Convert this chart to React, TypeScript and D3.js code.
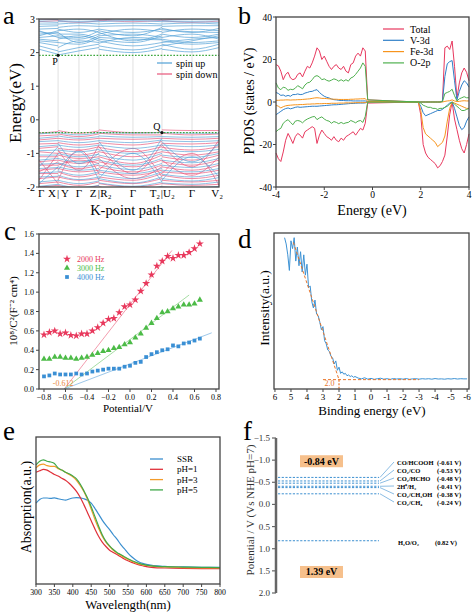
import React from 'react';
import * as d3 from 'd3';

const FONT = '"Liberation Serif", "Times New Roman", Times, serif';
const FRAME = '#444';

// ---------------- panel a : band structure ----------------
// node order: Γ, X, Y, Γ, Z, R2, Γ, T2, U2, Γ, V2  (X|Y, Z|R2, T2|U2 share a position)
const kNodes = [0, 0.106, 0.106, 0.222, 0.333, 0.333, 0.522, 0.683, 0.683, 0.85, 1];
const kSegments = [[0, 1], [2, 3, 4], [5, 6, 7], [8, 9, 10]];
const kLabels = ['Γ', 'X', '|', 'Y', 'Γ', 'Z', '|', 'R₂', 'Γ', 'T₂', '|', 'U₂', 'Γ', 'V₂'];
const kLabelPos = [0.012, 0.072, 0.106, 0.144, 0.222, 0.3, 0.333, 0.372, 0.522, 0.644, 0.683, 0.722, 0.85, 0.99];
const kGridLines = [0.106, 0.222, 0.333, 0.522, 0.683, 0.85];
const energyTicksA = [-2, -1, 0, 1, 2, 3];
const cbmLevel = 1.92;
const vbmLevel = -0.38;
const pointP = [0.106, 1.92];
const pointQ = [0.683, -0.38];

const cbSpinUp = [
  [2.10, 1.95, 1.93, 2.05, 2.15, 2.10, 2.00, 2.12, 2.10, 2.02, 2.15],
  [2.20, 2.05, 2.02, 2.15, 2.25, 2.20, 2.08, 2.22, 2.25, 2.10, 2.25],
  [2.30, 2.20, 2.15, 2.35, 2.30, 2.35, 2.20, 2.30, 2.35, 2.25, 2.30],
  [2.40, 2.35, 2.30, 2.25, 2.45, 2.45, 2.40, 2.38, 2.30, 2.40, 2.45],
  [2.45, 2.50, 2.45, 2.40, 2.55, 2.50, 2.55, 2.45, 2.45, 2.55, 2.40],
  [2.55, 2.60, 2.55, 2.55, 2.40, 2.60, 2.35, 2.55, 2.55, 2.45, 2.55],
  [2.62, 2.55, 2.65, 2.70, 2.60, 2.55, 2.70, 2.62, 2.60, 2.70, 2.65],
  [2.70, 2.72, 2.70, 2.60, 2.70, 2.70, 2.60, 2.70, 2.72, 2.60, 2.72],
  [2.78, 2.80, 2.75, 2.80, 2.78, 2.78, 2.80, 2.80, 2.78, 2.80, 2.80],
  [2.85, 2.85, 2.85, 2.88, 2.85, 2.85, 2.88, 2.85, 2.85, 2.88, 2.85],
  [2.92, 2.90, 2.92, 2.92, 2.92, 2.92, 2.95, 2.92, 2.92, 2.92, 2.90],
  [2.97, 2.98, 2.96, 2.98, 2.96, 2.97, 2.98, 2.97, 2.96, 2.98, 2.97],
  [2.35, 2.30, 2.40, 2.50, 2.35, 2.28, 2.45, 2.40, 2.20, 2.35, 2.50],
  [2.65, 2.45, 2.50, 2.45, 2.65, 2.65, 2.50, 2.75, 2.68, 2.62, 2.60],
  [2.50, 2.65, 2.60, 2.30, 2.50, 2.40, 2.30, 2.50, 2.40, 2.30, 2.35],
];
const cbSpinDown = [
  [3.00, 2.98, 3.00, 3.02, 2.99, 2.95, 3.05, 3.00, 2.97, 3.02, 3.05],
  [2.92, 2.95, 2.95, 2.90, 2.95, 2.97, 2.92, 2.96, 2.95, 2.90, 2.94],
];
const vbSpinDown = [
  [-0.40, -0.35, -0.32, -0.40, -0.33, -0.30, -0.38, -0.38, -0.30, -0.32, -0.32],
  [-0.48, -0.45, -0.42, -0.50, -0.42, -0.40, -0.45, -0.45, -0.40, -0.45, -0.42],
  [-0.60, -0.55, -0.55, -0.60, -0.55, -0.55, -0.58, -0.55, -0.55, -0.58, -0.55],
  [-0.72, -0.70, -0.68, -0.75, -0.70, -0.68, -0.75, -0.65, -0.70, -0.72, -0.68],
  [-0.85, -0.80, -0.85, -0.90, -0.80, -0.82, -0.95, -0.80, -0.82, -0.90, -0.80],
  [-0.95, -1.00, -0.95, -1.05, -0.95, -0.95, -1.10, -0.95, -0.95, -1.05, -0.95],
  [-1.10, -1.10, -1.05, -1.15, -1.10, -1.10, -1.30, -1.05, -1.10, -1.20, -1.05],
  [-1.25, -1.20, -1.20, -1.30, -1.20, -1.25, -1.40, -1.20, -1.25, -1.35, -1.20],
  [-1.35, -1.35, -1.30, -1.45, -1.35, -1.40, -1.55, -1.35, -1.40, -1.50, -1.35],
  [-1.50, -1.45, -1.45, -1.55, -1.50, -1.55, -1.65, -1.50, -1.55, -1.60, -1.50],
  [-1.60, -1.60, -1.55, -1.70, -1.60, -1.70, -1.80, -1.60, -1.65, -1.75, -1.65],
  [-1.75, -1.70, -1.70, -1.80, -1.75, -1.80, -1.90, -1.75, -1.80, -1.85, -1.80],
  [-1.90, -1.85, -1.85, -1.95, -1.85, -1.90, -2.00, -1.90, -1.90, -1.95, -1.92],
  [-2.00, -1.95, -1.95, -2.05, -1.95, -2.00, -2.10, -2.00, -2.00, -2.05, -2.00],
  [-1.80, -1.00, -0.90, -1.50, -0.75, -0.80, -1.60, -0.70, -0.75, -1.40, -0.60],
  [-1.20, -1.90, -1.80, -0.90, -1.60, -1.50, -0.85, -1.70, -1.60, -1.00, -1.95],
  [-1.55, -1.25, -1.35, -1.20, -1.30, -1.15, -1.75, -1.40, -1.20, -1.65, -1.10],
];
const vbSpinUp = [
  [-0.42, -0.38, -0.38, -0.45, -0.38, -0.38, -0.40, -0.38, -0.38, -0.40, -0.40],
  [-0.55, -0.50, -0.48, -0.55, -0.50, -0.48, -0.52, -0.50, -0.50, -0.52, -0.50],
  [-0.65, -0.62, -0.62, -0.68, -0.62, -0.62, -0.68, -0.60, -0.62, -0.65, -0.62],
  [-0.80, -0.75, -0.75, -0.82, -0.75, -0.75, -0.85, -0.75, -0.75, -0.80, -0.75],
  [-0.92, -0.90, -0.90, -0.95, -0.88, -0.90, -1.00, -0.88, -0.90, -0.95, -0.88],
  [-1.05, -1.05, -1.00, -1.10, -1.02, -1.05, -1.20, -1.00, -1.05, -1.12, -1.00],
  [-1.20, -1.15, -1.15, -1.25, -1.15, -1.20, -1.35, -1.15, -1.20, -1.28, -1.15],
  [-1.32, -1.30, -1.28, -1.40, -1.30, -1.35, -1.48, -1.30, -1.35, -1.42, -1.30],
  [-1.45, -1.42, -1.40, -1.50, -1.45, -1.50, -1.60, -1.45, -1.50, -1.55, -1.45],
  [-1.58, -1.55, -1.52, -1.65, -1.55, -1.62, -1.75, -1.55, -1.62, -1.70, -1.58],
  [-1.70, -1.68, -1.65, -1.78, -1.70, -1.75, -1.88, -1.70, -1.75, -1.82, -1.72],
  [-1.85, -1.80, -1.80, -1.90, -1.82, -1.88, -1.98, -1.85, -1.88, -1.92, -1.85],
  [-1.98, -1.92, -1.92, -2.02, -1.95, -2.00, -2.10, -1.98, -2.00, -2.02, -1.98],
  [-1.40, -0.80, -0.70, -1.30, -1.00, -0.65, -1.50, -0.55, -0.65, -1.25, -0.70],
  [-1.90, -1.40, -1.50, -0.95, -1.80, -1.75, -1.00, -1.85, -1.80, -1.10, -1.70],
];

// ---------------- panel b : PDOS ----------------
const pdosVBEnergies = d3.range(39).map((i) => -4 + i * 0.1);
const pdosCBEnergies = d3.range(22).map((i) => 1.9 + i * 0.1);
const totalUpVB = [17.6, 17, 14.5, 10.5, 13, 14, 11.3, 10.5, 11, 13, 13.7, 11.8, 14.5, 16.8, 16, 18.4, 21.6, 25.5, 24, 20, 21.6, 19.2, 16.8, 15.3, 16.8, 17.6, 16, 15.3, 16.8, 14.5, 13.7, 17.6, 18.4, 21.6, 23, 21.6, 25.5, 24, 1];
const totalUpCB = [0, 0, 0, 0, 0, 0, 0, 0, 0, 0, 0.5, 25.5, 26.3, 24.7, 28.7, 16.8, 1.9, 9, 13.7, 16, 14, 10];
const totalDnVB = [-24, -26.7, -28, -23.5, -18, -14.8, -17, -19.5, -16.3, -14.8, -15.6, -17, -14, -13.2, -12.4, -11.6, -12.4, -19.5, -15.6, -13.2, -14.8, -16.3, -17, -18, -16.3, -18, -18.7, -17, -18, -16.3, -15.6, -14.8, -14, -15.6, -14, -12.4, -13.2, -10, -0.5];
const totalDnCB = [0, -6, -20, -24, -26, -27, -28, -29, -31, -30, -28, -25, -16, -6, 0, -8, -13, -18, -22, -24, -20, -15];
const vUpVB = [4.5, 4, 3.1, 3.3, 2.7, 3.1, 2.7, 3.5, 3.5, 3.8, 3.5, 3.6, 4.2, 4.5, 4.9, 5, 5.5, 5.8, 4.5, 3.5, 2.7, 2.2, 1.9, 1.4, 1.1, 1, 0.8, 0.7, 0.7, 0.6, 0.6, 0.6, 0.5, 0.5, 0.5, 0.5, 0.5, 0.5, 0.2];
const vUpCB = [0, 0, 0, 0, 0, 0, 0, 0, 0, 0, 0.3, 12, 18, 19, 19.5, 10, 1, 5, 8, 10, 9, 7];
const vDnVB = [-6, -5.2, -4.4, -3.6, -3.1, -2.8, -3.2, -2.9, -2.5, -2.3, -2.5, -2.4, -2.3, -2.2, -2.1, -2, -2, -2, -1.9, -1.8, -1.7, -1.6, -1.5, -1.4, -1.3, -1.3, -1.2, -1.1, -1, -0.9, -0.8, -0.7, -0.7, -0.6, -0.5, -0.5, -0.5, -0.4, 0];
const vDnCB = [0, -2, -5, -6.5, -6, -5.5, -5, -4.5, -4, -4, -3.5, -2.5, -1.5, -0.5, 0, -3, -7, -11, -13, -12, -9, -7];
const feUpVB = [0.8, 0.8, 0.9, 0.9, 1, 1, 0.9, 1, 1, 1.1, 1.1, 1.2, 1.3, 1.4, 1.5, 1.7, 1.9, 2, 1.9, 1.7, 1.7, 1.6, 1.5, 1.4, 1.3, 1.3, 1.2, 1.2, 1.2, 1.2, 1.2, 1.3, 1.3, 1.4, 1.4, 1.5, 1.5, 1.6, 0.3];
const feUpCB = [0, 0, 0, 0, 0, 0, 0, 0, 0, 0, 0, 0.3, 0.5, 0.6, 1, 0.5, 0.2, 0.3, 0.5, 0.6, 0.5, 0.5];
const feDnVB = [-1.5, -2, -2.8, -2.2, -1.8, -1.6, -1.5, -1.4, -1.3, -1.3, -1.2, -1.2, -1.1, -1, -1, -0.9, -0.9, -0.8, -0.8, -0.8, -0.7, -0.7, -0.7, -0.6, -0.6, -0.6, -0.5, -0.5, -0.5, -0.4, -0.4, -0.4, -0.4, -0.3, -0.3, -0.3, -0.3, -0.3, 0];
const feDnCB = [0, -4, -12, -15, -16, -17, -18, -19, -21, -20, -19, -16, -9, -3, 0, -0.5, -1, -1.5, -2, -2.5, -3, -3];
const oUpVB = [9, 6.6, 5.8, 7, 6.6, 5.5, 6, 5.8, 6.5, 7.7, 7, 6.2, 8, 9, 9.3, 10.5, 12, 12.4, 11.8, 10.5, 10.9, 10.2, 9.8, 10.3, 10.9, 10.5, 9.8, 10.5, 9.8, 10.5, 9.8, 11.3, 11.8, 13, 14.5, 16, 18.4, 16.8, 1];
const oUpCB = [0, 0, 0, 0, 0, 0, 0, 0, 0, 0, 0.2, 4, 4.5, 5, 6, 3, 0.5, 1.5, 2, 2.5, 2, 2];
const oDnVB = [-14, -13, -12.4, -10, -9, -8.3, -9.6, -10.7, -9, -8.7, -9, -9.8, -8.7, -8, -7.5, -7, -6.8, -8.3, -7.5, -7, -8, -8.7, -9, -10, -9.2, -9.6, -10.2, -9.6, -10.2, -9.8, -9.6, -8.7, -9.2, -9.8, -9, -8.7, -9.6, -6.8, 0];
const oDnCB = [0, -0.5, -1.5, -2, -2.5, -2.5, -3, -3, -3.5, -3, -3, -2.5, -2, -1, 0, -1, -2, -3, -4, -4, -3.5, -3];
const pdosNames = ['Total', 'V-3d', 'Fe-3d', 'O-2p'];
const pdosColors = ['#e8385e', '#2f7fc8', '#f7941d', '#4fb04f'];
const pdosTicksX = [-4, -2, 0, 2, 4];
const pdosTicksY = [-40, -20, 0, 20, 40];

// ---------------- panel c : Mott-Schottky ----------------
const msPotential = [-0.8, -0.75, -0.7, -0.65, -0.6, -0.55, -0.5, -0.45, -0.4, -0.35, -0.3, -0.25, -0.2, -0.15, -0.1, -0.05, 0, 0.05, 0.1, 0.15, 0.2, 0.25, 0.3, 0.35, 0.4, 0.45, 0.5, 0.55, 0.6, 0.65];
const ms2000 = [0.56, 0.585, 0.6, 0.57, 0.58, 0.555, 0.55, 0.57, 0.57, 0.6, 0.635, 0.68, 0.72, 0.73, 0.79, 0.85, 0.87, 0.92, 1.01, 1.09, 1.18, 1.27, 1.32, 1.37, 1.35, 1.38, 1.38, 1.41, 1.45, 1.5];
const ms3000 = [0.31, 0.31, 0.33, 0.33, 0.32, 0.32, 0.31, 0.32, 0.33, 0.35, 0.37, 0.39, 0.4, 0.42, 0.43, 0.46, 0.48, 0.53, 0.57, 0.63, 0.68, 0.73, 0.79, 0.8, 0.83, 0.85, 0.87, 0.87, 0.88, 0.92];
const ms4000 = [0.13, 0.14, 0.16, 0.15, 0.15, 0.15, 0.16, 0.15, 0.16, 0.18, 0.19, 0.2, 0.21, 0.21, 0.21, 0.23, 0.24, 0.27, 0.28, 0.33, 0.36, 0.38, 0.4, 0.41, 0.45, 0.44, 0.47, 0.48, 0.5, 0.52];
const msNames = ['2000 Hz', '3000 Hz', '4000 Hz'];
const msColors = ['#e8385c', '#4cbb47', '#3a8fd4'];
const msFitEnds = [[0.39, 1.43], [0.55, 0.97], [0.76, 0.58]];
const flatBand = -0.612;
const msTicksX = [-0.8, -0.6, -0.4, -0.2, 0, 0.2, 0.4, 0.6, 0.8];
const msTicksY = [0, 0.2, 0.4, 0.6, 0.8, 1.0, 1.2, 1.4, 1.6];

// ---------------- panel d : VB-XPS ----------------
const xpsHighEnergy = d3.range(45).map((i) => 5.4 - i * 0.1);
const xpsHighIntensity = [97, 93, 86, 76, 95, 90, 97, 82, 91, 79, 88, 75, 86, 73, 80, 65, 66, 56, 52, 57, 48, 47, 43, 38, 40, 31, 29, 25, 24, 21, 20, 16, 18, 12, 14, 10, 11, 9.5, 10, 8.5, 9, 8, 8.5, 7.5, 8];
const xpsLowEnergy = d3.range(35).map((i) => 0.8 - i * 0.2);
const xpsLowIntensity = [7, 6.5, 7.2, 6.3, 6.8, 6.2, 6.6, 6.9, 6.3, 6.6, 6.2, 6.7, 6.4, 6.6, 6.3, 6.7, 6.2, 6.5, 6.6, 6.3, 6.6, 6.4, 6.6, 6.3, 6.7, 6.4, 6.5, 6.3, 6.6, 6.4, 6.7, 6.4, 6.6, 6.5, 6.5];
const xpsFit = [[4.85, 94], [2.0, 6]];
const xpsBaseline = [[3.0, 6], [-3.0, 6]];
const xpsEdge = 2.0;
const xpsTicks = [6, 5, 4, 3, 2, 1, 0, -1, -2, -3, -4, -5, -6];

// ---------------- panel e : UV-vis ----------------
const wavelength = [300, 310, 320, 330, 340, 350, 360, 370, 380, 390, 400, 410, 420, 430, 440, 450, 460, 470, 480, 490, 500, 510, 520, 530, 540, 550, 560, 570, 580, 590, 600, 620, 650, 700, 750, 800];
const absSSR = [55, 57.5, 58.5, 58.5, 58.2, 58.6, 58, 57.5, 57, 57.8, 58.5, 58.8, 58.6, 58, 57, 55, 51.5, 47.5, 43.5, 40, 37, 33.5, 30.5, 27, 24, 21, 18.5, 16.5, 15, 14, 13.3, 12.5, 12, 11.6, 11.4, 11.3];
const absPH1 = [76, 77, 78, 77.5, 76, 74.5, 73.5, 72, 70.5, 68.5, 66, 63, 59, 54, 48.5, 43, 37.5, 32.5, 28.5, 25.5, 23, 21.5, 20, 18.5, 17, 15.8, 14.7, 13.8, 13, 12.4, 11.8, 11.2, 10.9, 10.6, 10.5, 10.4];
const absPH3 = [79, 81, 81.5, 80.5, 80, 80, 78.5, 77.5, 76, 74.5, 73, 70.5, 67, 63, 57.5, 51, 44, 38, 32.5, 28.5, 25.5, 23, 21, 19.5, 18, 16.8, 15.5, 14.5, 13.6, 13, 12.6, 12, 11.6, 11.2, 11, 10.9];
const absPH5 = [81, 83.5, 84.5, 83.5, 83, 82, 79, 77.5, 76, 75, 73.5, 71.5, 68, 63.5, 58.5, 52.5, 46, 39.5, 33.5, 29, 26, 23.5, 21.5, 20, 18.5, 17.2, 16, 15, 14, 13.3, 12.8, 12.2, 11.8, 11.5, 11.3, 11.2];
const absNames = ['SSR', 'pH=1', 'pH=3', 'pH=5'];
const absColors = ['#3b8fcf', '#e0303a', '#f39c2b', '#40a84a'];
const wlTicks = [300, 350, 400, 450, 500, 550, 600, 650, 700, 750, 800];

// ---------------- panel f : band positions ----------------
const redoxLabels = ['CO/HCOOH', 'CO₂/CO', 'CO₂/HCHO', '2H⁺/H₂', 'CO₂/CH₃OH', 'CO₂/CH₄'];
const redoxPotentials = [-0.61, -0.53, -0.48, -0.41, -0.38, -0.24];
const oxLabel = 'H₂O/O₂';
const oxPotential = 0.82;
const cbPotential = -0.84;
const vbPotential = 1.39;
const potTicks = [-1.5, -1.0, -0.5, 0.0, 0.5, 1.0, 1.5, 2.0];

type Pt = [number, number];

function Frame({ x0, x1, y0, y1 }: { x0: number; x1: number; y0: number; y1: number }) {
  return <rect x={x0} y={y0} width={x1 - x0} height={y1 - y0} fill="none" stroke={FRAME} strokeWidth={1.3} />;
}

function PanelA() {
  const x = d3.scaleLinear().domain([0, 1]).range([39, 219]);
  const y = d3.scaleLinear().domain([-2, 3]).range([187, 19]);
  const line = d3.line<Pt>().x((d) => x(d[0])).y((d) => y(d[1])).curve(d3.curveMonotoneX);
  const draw = (bands: number[][], color: string, key: string, op: number) =>
    bands.flatMap((b, i) =>
      kSegments.map((seg, j) => (
        <path key={`${key}${i}-${j}`} d={line(seg.map((n) => [kNodes[n], b[n]] as Pt)) || ''} fill="none" stroke={color} strokeWidth={0.75} opacity={op} />
      ))
    );
  const blue = '#4f9fd6';
  const red = '#e8557a';
  return (
    <g>
      <defs>
        <clipPath id="clipA"><rect x={39} y={19} width={180} height={168} /></clipPath>
      </defs>
      {kGridLines.map((k) => (
        <line key={k} x1={x(k)} x2={x(k)} y1={19} y2={187} stroke="#d8d8d8" strokeWidth={0.8} />
      ))}
      <g clipPath="url(#clipA)">
        {draw(cbSpinDown, red, 'cbd', 0.8)}
        {draw(cbSpinUp, blue, 'cbu', 0.9)}
        {draw(vbSpinDown, red, 'vbd', 0.9)}
        {draw(vbSpinUp, blue, 'vbu', 0.85)}
      </g>
      <line x1={39} x2={219} y1={y(cbmLevel)} y2={y(cbmLevel)} stroke="#3aa63a" strokeWidth={1.2} strokeDasharray="1.6,1.6" />
      <line x1={39} x2={219} y1={y(vbmLevel)} y2={y(vbmLevel)} stroke="#3aa63a" strokeWidth={1.2} strokeDasharray="1.6,1.6" />
      <circle cx={x(pointP[0])} cy={y(pointP[1])} r={1.6} fill="#111" />
      <circle cx={x(pointQ[0])} cy={y(pointQ[1])} r={1.6} fill="#111" />
      <text x={x(pointP[0]) - 3} y={y(pointP[1]) + 10} fontSize={10} fontFamily={FONT} textAnchor="middle">P</text>
      <text x={x(pointQ[0]) - 5} y={y(pointQ[1]) - 3} fontSize={10} fontFamily={FONT} textAnchor="middle">Q</text>
      <Frame x0={39} x1={219} y0={19} y1={187} />
      {energyTicksA.map((t) => (
        <g key={t}>
          <line x1={36} x2={39} y1={y(t)} y2={y(t)} stroke={FRAME} />
          <text x={35} y={y(t) + 3.5} fontSize={10} fontFamily={FONT} textAnchor="end">{t}</text>
        </g>
      ))}
      {kLabels.map((l, i) => (
        <text key={i} x={x(kLabelPos[i])} y={197} fontSize={11} fontFamily={FONT} textAnchor="middle">{l}</text>
      ))}
      <line x1={157} x2={172} y1={63} y2={63} stroke={blue} strokeWidth={1.2} />
      <line x1={157} x2={172} y1={74} y2={74} stroke={red} strokeWidth={1.2} />
      <text x={176} y={66.5} fontSize={10} fontFamily={FONT}>spin up</text>
      <text x={176} y={77.5} fontSize={10} fontFamily={FONT}>spin down</text>
      <text transform="translate(21,103) rotate(-90)" fontSize={17} fontFamily={FONT} textAnchor="middle">Energy(eV)</text>
      <text x={127} y={215} fontSize={14.5} fontFamily={FONT} textAnchor="middle">K-point path</text>
      <text x={3} y={24} fontSize={26} fontFamily={FONT}>a</text>
    </g>
  );
}

function PanelB() {
  const x = d3.scaleLinear().domain([-4, 4]).range([276, 469]);
  const y = d3.scaleLinear().domain([-40, 40]).range([187, 17]);
  const energies = [...pdosVBEnergies, ...pdosCBEnergies];
  const series = [
    [[...totalUpVB, ...totalUpCB], [...totalDnVB, ...totalDnCB]],
    [[...vUpVB, ...vUpCB], [...vDnVB, ...vDnCB]],
    [[...feUpVB, ...feUpCB], [...feDnVB, ...feDnCB]],
    [[...oUpVB, ...oUpCB], [...oDnVB, ...oDnCB]],
  ];
  const line = d3.line<Pt>().x((d) => x(d[0])).y((d) => y(d[1]));
  return (
    <g>
      {series.map((pair, si) =>
        pair.map((vals, k) => (
          <path key={`${si}-${k}`} d={line(vals.map((v, i) => [energies[i], v] as Pt)) || ''} fill="none" stroke={pdosColors[si]} strokeWidth={1} />
        ))
      )}
      <Frame x0={276} x1={469} y0={17} y1={187} />
      {pdosTicksY.map((t) => (
        <g key={t}>
          <line x1={273} x2={276} y1={y(t)} y2={y(t)} stroke={FRAME} />
          <text x={272} y={y(t) + 3.5} fontSize={9.5} fontFamily={FONT} textAnchor="end">{t}</text>
        </g>
      ))}
      {pdosTicksX.map((t) => (
        <g key={t}>
          <line x1={x(t)} x2={x(t)} y1={187} y2={190} stroke={FRAME} />
          <text x={x(t)} y={198} fontSize={9.5} fontFamily={FONT} textAnchor="middle">{t}</text>
        </g>
      ))}
      {pdosNames.map((n, i) => (
        <g key={n}>
          <line x1={383} x2={404} y1={29 + i * 11.3} y2={29 + i * 11.3} stroke={pdosColors[i]} strokeWidth={1.2} />
          <text x={410} y={32.5 + i * 11.3} fontSize={10} fontFamily={FONT}>{n}</text>
        </g>
      ))}
      <text transform="translate(254,101) rotate(-90)" fontSize={14} fontFamily={FONT} textAnchor="middle">PDOS (states / eV)</text>
      <text x={372} y={215} fontSize={14} fontFamily={FONT} textAnchor="middle">Energy (eV)</text>
      <text x={238} y={24} fontSize={26} fontFamily={FONT}>b</text>
    </g>
  );
}

function PanelC() {
  const x = d3.scaleLinear().domain([-0.8465, 0.828]).range([39, 219]);
  const y = d3.scaleLinear().domain([0, 1.6]).range([389, 234]);
  const sets = [ms2000, ms3000, ms4000];
  const symbols = [d3.symbolStar, d3.symbolTriangle, d3.symbolSquare];
  const sizes = [20, 16, 14];
  const fmt = d3.format('.1f');
  return (
    <g>
      {msFitEnds.map((e, i) => (
        <line key={i} x1={x(flatBand)} y1={y(0)} x2={x(e[0])} y2={y(e[1])} stroke={msColors[i]} strokeWidth={0.7} opacity={0.7} />
      ))}
      {sets.map((vals, si) =>
        vals.map((v, i) => (
          <path key={`${si}-${i}`} transform={`translate(${x(msPotential[i])},${y(v)})`} d={d3.symbol(symbols[si], sizes[si])() || ''} fill={msColors[si]} />
        ))
      )}
      <text x={x(flatBand) - 1} y={y(0) - 3} fontSize={8} fontFamily={FONT} fill="#e8883a" textAnchor="middle">{flatBand}</text>
      <Frame x0={39} x1={219} y0={234} y1={389} />
      {msTicksY.map((t) => (
        <g key={t}>
          <line x1={36} x2={39} y1={y(t)} y2={y(t)} stroke={FRAME} />
          <text x={34} y={y(t) + 3} fontSize={8} fontFamily={FONT} textAnchor="end">{fmt(t)}</text>
        </g>
      ))}
      {msTicksX.map((t) => (
        <g key={t}>
          <line x1={x(t)} x2={x(t)} y1={389} y2={392} stroke={FRAME} />
          <text x={x(t)} y={399.5} fontSize={8} fontFamily={FONT} textAnchor="middle">{fmt(t)}</text>
        </g>
      ))}
      {msNames.map((n, i) => (
        <g key={n}>
          <path transform={`translate(67,${259 + i * 9})`} d={d3.symbol(symbols[i], sizes[i])() || ''} fill={msColors[i]} />
          <text x={77} y={262 + i * 9} fontSize={8} fontFamily={FONT} fill={msColors[i]}>{n}</text>
        </g>
      ))}
      <text transform="translate(17,311) rotate(-90)" fontSize={11} fontFamily={FONT} textAnchor="middle">10⁸/C²(F⁻² cm⁴)</text>
      <text x={128} y={412} fontSize={11} fontFamily={FONT} textAnchor="middle">Potential/V</text>
      <text x={4} y={240} fontSize={27} fontFamily={FONT}>c</text>
    </g>
  );
}

function PanelD() {
  const x = d3.scaleLinear().domain([6.06, -6.12]).range([274, 469]);
  const y = d3.scaleLinear().domain([0, 100]).range([389, 233]);
  const pts: Pt[] = [
    ...xpsHighEnergy.map((e, i) => [e, xpsHighIntensity[i]] as Pt),
    ...xpsLowEnergy.map((e, i) => [e, xpsLowIntensity[i]] as Pt),
  ];
  const line = d3.line<Pt>().x((d) => x(d[0])).y((d) => y(d[1]));
  const orange = '#e8752a';
  return (
    <g>
      <path d={line(pts) || ''} fill="none" stroke="#3d92d4" strokeWidth={1} />
      <path d={line(xpsFit as Pt[]) || ''} fill="none" stroke={orange} strokeWidth={1} strokeDasharray="3,2" />
      <path d={line(xpsBaseline as Pt[]) || ''} fill="none" stroke={orange} strokeWidth={1} strokeDasharray="3,2" />
      <line x1={x(xpsEdge)} x2={x(xpsEdge)} y1={y(6)} y2={389} stroke={orange} strokeWidth={1.2} strokeDasharray="2,1.5" />
      <text x={x(xpsEdge + 0.6)} y={386} fontSize={8} fontFamily={FONT} fill={orange} textAnchor="middle">{xpsEdge.toFixed(1)}</text>
      <Frame x0={274} x1={469} y0={233} y1={389} />
      {xpsTicks.map((t) => (
        <g key={t}>
          <line x1={x(t)} x2={x(t)} y1={389} y2={392} stroke={FRAME} />
          <text x={x(t)} y={399.5} fontSize={9} fontFamily={FONT} textAnchor="middle">{t}</text>
        </g>
      ))}
      <text transform="translate(269,308) rotate(-90)" fontSize={13.5} fontFamily={FONT} textAnchor="middle">Intensity(a.u.)</text>
      <text x={372} y={414.5} fontSize={13} fontFamily={FONT} textAnchor="middle">Binding energy (eV)</text>
      <text x={238} y={248} fontSize={27} fontFamily={FONT}>d</text>
    </g>
  );
}

function PanelE() {
  const x = d3.scaleLinear().domain([300, 800]).range([36, 220]);
  const y = d3.scaleLinear().domain([0, 100]).range([584, 437]);
  const sets = [absSSR, absPH1, absPH3, absPH5];
  const line = d3.line<Pt>().x((d) => x(d[0])).y((d) => y(d[1])).curve(d3.curveMonotoneX);
  return (
    <g>
      {sets.map((vals, si) => (
        <path key={si} d={line(vals.map((v, i) => [wavelength[i], v] as Pt)) || ''} fill="none" stroke={absColors[si]} strokeWidth={1.2} />
      ))}
      <Frame x0={36} x1={220} y0={437} y1={584} />
      {wlTicks.map((t) => (
        <g key={t}>
          <line x1={x(t)} x2={x(t)} y1={584} y2={587} stroke={FRAME} />
          <text x={x(t)} y={594.5} fontSize={7.8} fontFamily={FONT} textAnchor="middle">{t}</text>
        </g>
      ))}
      {absNames.map((n, i) => (
        <g key={n}>
          <line x1={150} x2={163} y1={459 + i * 10.3} y2={459 + i * 10.3} stroke={absColors[i]} strokeWidth={1.3} />
          <text x={177} y={462 + i * 10.3} fontSize={9} fontFamily={FONT}>{n}</text>
        </g>
      ))}
      <text transform="translate(31,507) rotate(-90)" fontSize={14} fontFamily={FONT} textAnchor="middle">Absorption(a.u.)</text>
      <text x={128} y={608.8} fontSize={12.8} fontFamily={FONT} textAnchor="middle">Wavelength(nm)</text>
      <text x={3} y={440} fontSize={27} fontFamily={FONT}>e</text>
    </g>
  );
}

function PanelF() {
  const y = d3.scaleLinear().domain([-1.5, 2.0]).range([438, 593]);
  const fmt = d3.format('.1f');
  const blue = '#3c8fd0';
  const rowY = (i: number) => 462 + i * 8;
  return (
    <g>
      <line x1={276} x2={276} y1={438} y2={593} stroke="#666" strokeWidth={2.5} />
      {potTicks.map((t) => (
        <g key={t}>
          <line x1={272} x2={276} y1={y(t)} y2={y(t)} stroke="#666" strokeWidth={1.2} />
          <text x={270} y={y(t) + 3} fontSize={9} fontFamily={FONT} textAnchor="end" fill="#333">{fmt(t)}</text>
        </g>
      ))}
      {redoxPotentials.map((p, i) => (
        <g key={i}>
          <line x1={278} x2={379} y1={y(p)} y2={y(p)} stroke={blue} strokeWidth={1} strokeDasharray="2.2,1.5" />
          <line x1={380} x2={394} y1={y(p)} y2={rowY(i)} stroke={blue} strokeWidth={0.6} />
          <text x={397} y={rowY(i) + 2.5} fontSize={6.5} fontWeight="bold" fontFamily={FONT}>{redoxLabels[i]}</text>
          <text x={437} y={rowY(i) + 2.5} fontSize={6.5} fontWeight="bold" fontFamily={FONT}>({p.toFixed(2)} V)</text>
        </g>
      ))}
      <line x1={278} x2={379} y1={y(oxPotential)} y2={y(oxPotential)} stroke={blue} strokeWidth={1} strokeDasharray="2.2,1.5" />
      <text x={398} y={y(oxPotential) + 4} fontSize={6.5} fontWeight="bold" fontFamily={FONT}>{oxLabel}</text>
      <text x={435} y={y(oxPotential) + 4} fontSize={6.5} fontWeight="bold" fontFamily={FONT}>({oxPotential.toFixed(2)} V)</text>
      <rect x={300} y={y(cbPotential) - 12} width={43} height={12} fill="#f6c08c" />
      <text x={321.5} y={y(cbPotential) - 2.5} fontSize={10} fontWeight="bold" fontFamily={FONT} textAnchor="middle">{cbPotential} eV</text>
      <rect x={300} y={y(vbPotential)} width={43} height={12} fill="#f6c08c" />
      <text x={321.5} y={y(vbPotential) + 9.5} fontSize={10} fontWeight="bold" fontFamily={FONT} textAnchor="middle">{vbPotential} eV</text>
      <text transform="translate(254,510) rotate(-90)" fontSize={11} fontFamily={FONT} textAnchor="middle" fill="#333">Potential / V (Vs NHE pH=7)</text>
      <text x={243} y={440} fontSize={27} fontFamily={FONT}>f</text>
    </g>
  );
}

export default function App() {
  return (
    <svg width={474} height={612} viewBox="0 0 474 612" style={{ position: 'absolute', left: 0, top: 0, background: '#fff' }} fontFamily={FONT}>
      <rect width={474} height={612} fill="#fff" />
      <PanelA />
      <PanelB />
      <PanelC />
      <PanelD />
      <PanelE />
      <PanelF />
    </svg>
  );
}
